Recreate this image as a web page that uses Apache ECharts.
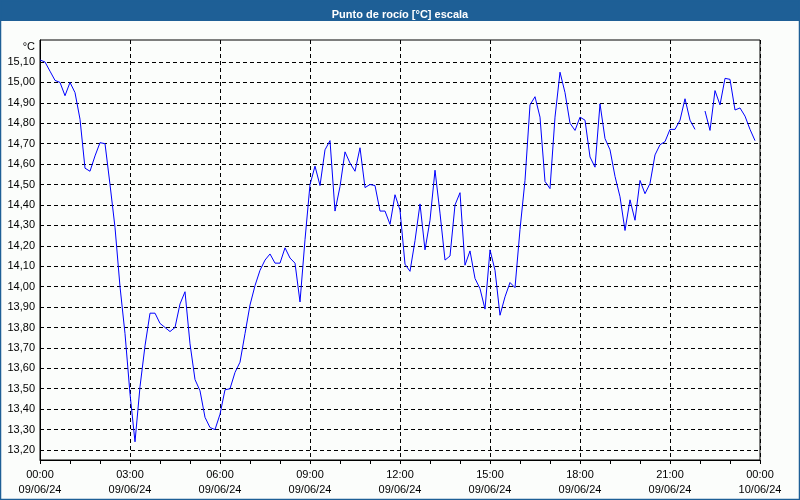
<!DOCTYPE html>
<html>
<head>
<meta charset="utf-8">
<script src="https://cdn.jsdelivr.net/npm/echarts@6/dist/echarts.min.js"></script>
<style>
  html, body { margin: 0; padding: 0; background: #fbfdfb; }
  #chart { width: 800px; height: 500px; }
</style>
</head>
<body>
<div id="chart"></div>
<script>
// ---- Data (10-minute readings, 09/06/24 00:00 .. 23:50) ----
const titleText = 'Punto de rocío [°C] escala';
const unitLabel = '°C';
const stepMinutes = 10;
const dayLabel = '09/06/24';
const nextDayLabel = '10/06/24';

const values00to06 = [
  15.11, 15.10, 15.055, 15.01, 15.00, 14.935, 15.00, 14.95, 14.82, 14.58, 14.565, 14.64,
  14.705, 14.70, 14.50, 14.29, 14.00, 13.77, 13.475, 13.24, 13.51, 13.71, 13.87, 13.87,
  13.82, 13.80, 13.78, 13.80, 13.915, 13.975, 13.72, 13.545, 13.49, 13.36, 13.31, 13.30
];
const values06to12 = [
  13.375, 13.495, 13.50, 13.58, 13.63, 13.77, 13.91, 14.005, 14.08, 14.13, 14.16, 14.115,
  14.115, 14.19, 14.14, 14.115, 13.925, 14.23, 14.50, 14.59, 14.495, 14.67, 14.715, 14.37,
  14.49, 14.66, 14.605, 14.565, 14.68, 14.485, 14.50, 14.495, 14.37, 14.37, 14.305, 14.45
];
const values12to18 = [
  14.375, 14.11, 14.075, 14.225, 14.405, 14.18, 14.325, 14.57, 14.36, 14.13, 14.15, 14.40,
  14.46, 14.105, 14.175, 14.04, 13.99, 13.89, 14.18, 14.08, 13.86, 13.95, 14.02, 13.995,
  14.28, 14.52, 14.89, 14.93, 14.83, 14.515, 14.48, 14.83, 15.05, 14.95, 14.80, 14.765
];
const values18to24 = [
  14.83, 14.815, 14.635, 14.585, 14.895, 14.725, 14.67, 14.54, 14.44, 14.275, 14.425, 14.325,
  14.52, 14.455, 14.505, 14.645, 14.695, 14.71, 14.77, 14.77, 14.815, 14.92, 14.815, 14.77,
  null, 14.86, 14.765, 14.96, 14.89, 15.02, 15.015, 14.865, 14.875, 14.835, 14.77, 14.715
];
const yTickMin = 13.2, yTickMax = 15.1, yTickStep = 0.1;
const xHourMin = 0, xHourMax = 24, xHourStep = 3;

// ---- Build series ----
const allValues = [].concat(values00to06, values06to12, values12to18, values18to24);
const seriesData = allValues.map((v, i) => [i * stepMinutes / 60, v == null ? '-' : v]);

// ---- Layout ----
const W = 800, H = 500;
const plot = { left: 40, right: 40, top: 40, bottom: 40 };
const tickBand = { top: 62, bottom: 50 }; // pixel rows of 15,10 and 13,20 gridlines
const plotH = H - plot.top - plot.bottom;
const bandH = H - tickBand.top - tickBand.bottom;
const perUnit = bandH / (yTickMax - yTickMin);
const dataMax = yTickMax + (tickBand.top - plot.top) / perUnit;
const dataMin = yTickMin - (tickBand.bottom - plot.bottom) / perUnit;

const FONT = 'Liberation Sans';
const pad2 = n => (n < 10 ? '0' : '') + n;

const chart = echarts.init(document.getElementById('chart'), null, { renderer: 'canvas' });
chart.setOption({
  animation: false,
  backgroundColor: '#fbfdfb',
  textStyle: { fontFamily: FONT },
  graphic: [
    { type: 'rect', z: -1, shape: { x: 0, y: 0, width: W, height: 21 }, style: { fill: '#1e5f96' } },
    { type: 'rect', z: 100, shape: { x: 0.5, y: 0.5, width: W - 1, height: H - 1 },
      style: { fill: 'none', stroke: '#1e5f96', lineWidth: 1.5 } }
  ],
  title: {
    text: titleText, left: 'center', top: 4,
    textStyle: { color: '#ffffff', fontSize: 11, fontWeight: 'bold', fontFamily: FONT }
  },
  grid: [
    { left: plot.left, right: plot.right, top: plot.top, bottom: plot.bottom,
      show: true, borderColor: '#000', borderWidth: 1, backgroundColor: 'transparent', z: 3 },
    { left: plot.left, right: plot.right, top: tickBand.top, bottom: tickBand.bottom,
      show: false }
  ],
  xAxis: [
    { type: 'value', gridIndex: 0, min: xHourMin, max: xHourMax, interval: xHourStep,
      axisLine: { show: true, lineStyle: { color: '#000', width: 1 } },
      axisTick: { show: true, length: 4, lineStyle: { color: '#000' } },
      minorTick: { show: true, splitNumber: 3, length: 4, lineStyle: { color: '#000' } },
      splitLine: { show: true, lineStyle: { color: '#000', type: [4, 3], width: 1 } },
      axisLabel: {
        color: '#000', fontSize: 11, fontFamily: FONT, lineHeight: 15, margin: 7,
        showMinLabel: true, showMaxLabel: true,
        formatter: v => {
          const h = Math.round(v);
          return (h >= 24 ? '00:00' : pad2(h) + ':00') + '\n' + (h >= 24 ? nextDayLabel : dayLabel);
        }
      }
    },
    { type: 'value', gridIndex: 1, min: xHourMin, max: xHourMax, show: false }
  ],
  yAxis: [
    { type: 'value', gridIndex: 0, min: dataMin, max: dataMax,
      name: unitLabel, nameLocation: 'end', nameGap: -7,
      nameTextStyle: { color: '#000', fontSize: 11, fontFamily: FONT, align: 'right',
                       verticalAlign: 'middle', padding: [0, 5, 0, 0] },
      axisLine: { show: true, lineStyle: { color: '#000' } },
      axisTick: { show: false }, axisLabel: { show: false }, splitLine: { show: false }
    },
    { type: 'value', gridIndex: 1, min: yTickMin, max: yTickMax, interval: yTickStep,
      axisLine: { show: false }, axisTick: { show: false },
      splitLine: { show: true, lineStyle: { color: '#000', type: [4, 3], width: 1 } },
      axisLabel: {
        color: '#000', fontSize: 11, fontFamily: FONT, margin: 5,
        showMinLabel: true, showMaxLabel: true,
        formatter: v => v.toFixed(2).replace('.', ',')
      }
    }
  ],
  series: [{
    type: 'line', xAxisIndex: 0, yAxisIndex: 0, data: seriesData,
    showSymbol: false, symbol: 'none', connectNulls: false, z: 5,
    lineStyle: { color: '#0000ff', width: 1 }
  }]
});
</script>
</body>
</html>
